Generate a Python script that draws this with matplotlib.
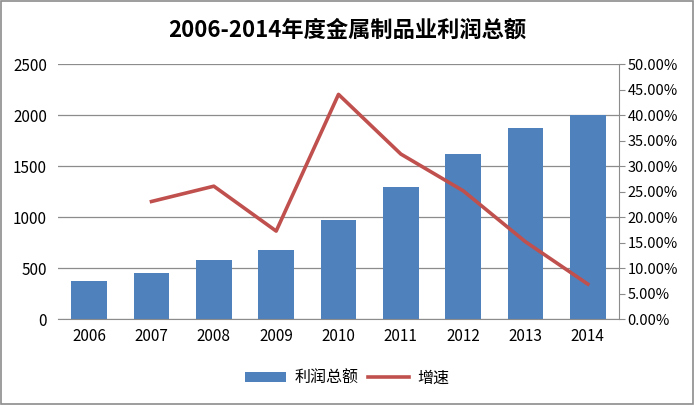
import numpy as np
import matplotlib.pyplot as plt
from matplotlib.ticker import FuncFormatter

plt.rcParams['font.family'] = ['Noto Sans CJK SC', 'DejaVu Sans']

years = ['2006', '2007', '2008', '2009', '2010', '2011', '2012', '2013', '2014']
profit = [378, 454, 581, 679, 973, 1297, 1620, 1875, 2000]
growth = [np.nan, 23.1, 26.1, 17.3, 44.1, 32.4, 25.2, 15.2, 6.9]

bar_color = '#4F81BD'
line_color = '#C0504D'

fig = plt.figure(figsize=(6.94, 4.05), dpi=100)
ax = fig.add_axes([58 / 694, 1 - 319.3 / 405, 561 / 694, 255 / 405])

x = np.arange(len(years))
bars = ax.bar(x, profit, width=0.57, color=bar_color, label='利润总额', zorder=2)
ax.set_xlim(-0.5, len(years) - 0.5)
ax.set_ylim(0, 2500)
ax.set_yticks(range(0, 2501, 500))
ax.set_xticks(x)
ax.set_xticklabels(years)
ax.grid(axis='y', color='#8c8c8c', linewidth=0.9, zorder=0)
for s in ['top', 'right', 'left']:
    ax.spines[s].set_visible(False)
ax.spines['bottom'].set_color('#8c8c8c')
ax.tick_params(axis='y', length=0, labelsize=11, pad=8)
ax.tick_params(axis='x', length=0, labelsize=11, pad=6)

ax2 = ax.twinx()
line, = ax2.plot(x, growth, color=line_color, linewidth=2.6, label='增速', zorder=3)
ax2.set_ylim(0, 50)
ax2.set_yticks(range(0, 51, 5))
ax2.yaxis.set_major_formatter(FuncFormatter(lambda v, p: f'{v:.2f}%'))
for s in ['top', 'left', 'bottom']:
    ax2.spines[s].set_visible(False)
ax2.spines['right'].set_color('#8c8c8c')
ax2.tick_params(axis='y', length=4, color='#8c8c8c', labelsize=10.5, pad=2)

fig.text(0.5, 1 - 30 / 405, '2006-2014年度金属制品业利润总额', ha='center', va='center',
         fontsize=16, fontweight='bold')

fig.legend([bars, line], ['利润总额', '增速'], loc='center', bbox_to_anchor=(347 / 694, 1 - 378 / 405),
           ncol=2, frameon=False, fontsize=11.5, handlelength=2.6, handleheight=0.6,
           columnspacing=0.6, handletextpad=0.5)

border = plt.Rectangle((0.001, 0.002), 0.997, 0.995, transform=fig.transFigure,
                       fill=False, edgecolor='#8c8c8c', linewidth=1.2)
fig.patches.append(border)

fig.savefig('out.png', dpi=100)
